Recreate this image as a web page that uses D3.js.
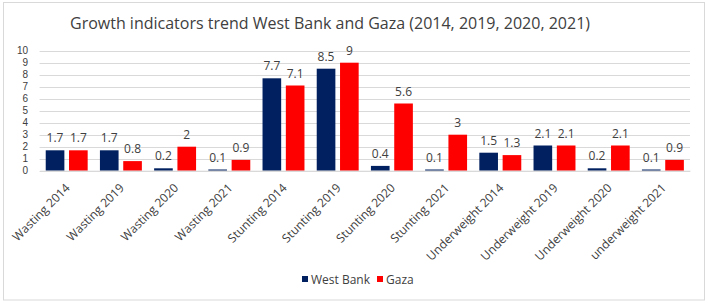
<!DOCTYPE html>
<html><head><meta charset="utf-8">
<script src="https://cdn.jsdelivr.net/npm/d3@7"></script>
<style>body{margin:0;background:#fff}svg{display:block}text{font-family:"Open Sans","Liberation Sans",sans-serif}</style>
</head><body><svg id="c" width="708" height="303"></svg>
<script>
const categories = ["Wasting 2014","Wasting 2019","Wasting 2020","Wasting 2021","Stunting 2014","Stunting 2019","Stunting 2020","Stunting 2021","Underweight 2014","Underweight 2019","Underweight 2020","underweight 2021"];
const westBank = [1.7,1.7,0.2,0.1,7.7,8.5,0.4,0.1,1.5,2.1,0.2,0.1];
const gaza = [1.7,0.8,2,0.9,7.1,9,5.6,3,1.3,2.1,2.1,0.9];
const seriesNames = ["West Bank","Gaza"];
const colors = ["#002060","#FF0000"];
const yTicks = [0,1,2,3,4,5,6,7,8,9,10];
const title = "Growth indicators trend West Bank and Gaza (2014, 2019, 2020, 2021)";

const svg = d3.select("#c");
svg.append("rect").attr("x",3.5).attr("y",2.5).attr("width",701).attr("height",297.5).attr("fill","#fff").attr("stroke","#d9d9d9");

const pLeft=39.6, pRight=690, pTop=50.7, pBottom=170.7;
const x0 = d3.scaleBand().domain(categories).range([pLeft,pRight]).padding(0);
const x1 = d3.scaleBand().domain(seriesNames).range([0,x0.bandwidth()]).paddingInner(0.2).paddingOuter(0.263);
const y = d3.scaleLinear().domain([0,10]).range([pBottom,pTop]);

// gridlines
svg.append("g").selectAll("line").data(yTicks).join("line")
  .attr("x1",pLeft).attr("x2",pRight).attr("y1",d=>Math.round(y(d))+0.5).attr("y2",d=>Math.round(y(d))+0.5)
  .attr("stroke","#d9d9d9").attr("stroke-width",1);

// y axis labels
const yAxis = d3.axisLeft(y).tickValues(yTicks).tickSize(0).tickPadding(0);
const yg = svg.append("g").attr("transform",`translate(${28},0)`).call(yAxis);
yg.attr("font-family",null);
yg.select(".domain").remove();
yg.selectAll("text").attr("fill","#404040").style("font-size","10px").style("font-family","'Liberation Sans',sans-serif");

// bars
const data = categories.map((c,i)=>({c, vals:[westBank[i],gaza[i]]}));
const groups = svg.append("g").selectAll("g").data(data).join("g").attr("transform",d=>`translate(${x0(d.c)},0)`);
groups.selectAll("rect").data(d=>d.vals.map((v,j)=>({v,s:seriesNames[j],j}))).join("rect")
  .attr("x",d=>x1(d.s)).attr("width",x1.bandwidth())
  .attr("y",d=>y(d.v)).attr("height",d=>y(0)-y(d.v)).attr("fill",d=>colors[d.j]);
groups.selectAll("text").data(d=>d.vals.map((v,j)=>({v,s:seriesNames[j],j}))).join("text")
  .attr("x",d=>x1(d.s)+x1.bandwidth()/2).attr("y",d=>y(d.v)-8)
  .attr("text-anchor","middle").attr("fill","#404040").style("font-size","12px").text(d=>d.v);

// x axis
const xAxis = d3.axisBottom(x0).tickSize(0).tickPadding(0);
const xg = svg.append("g").attr("transform",`translate(0,${pBottom})`).call(xAxis);
xg.attr("font-family",null);
xg.select(".domain").attr("stroke","#d9d9d9");
xg.selectAll("text").attr("text-anchor","end").attr("fill","#404040").style("font-size","12px")
  .attr("dy","0").attr("y",0)
  .attr("transform","translate(4,18) rotate(-45)");

// title
svg.append("text").attr("x",70).attr("y",29).attr("fill","#404040").style("font-size","16px").text(title);

// legend
const lg = svg.append("g").attr("transform","translate(302,279)");
const items = [{n:"West Bank",c:colors[0],x:0},{n:"Gaza",c:colors[1],x:75}];
items.forEach(it=>{
  lg.append("rect").attr("x",it.x).attr("y",-3).attr("width",6).attr("height",6).attr("fill",it.c);
  lg.append("text").attr("x",it.x+9).attr("y",4.5).attr("fill","#404040").style("font-size","12px").text(it.n);
});
</script></body></html>
